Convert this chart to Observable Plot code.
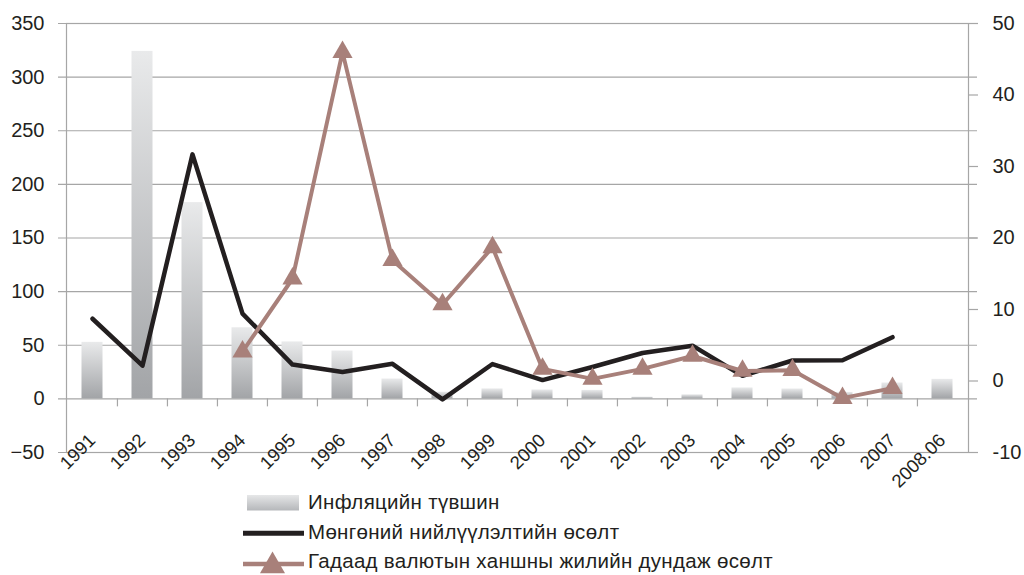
<!DOCTYPE html>
<html><head><meta charset="utf-8">
<script src="https://cdn.jsdelivr.net/npm/d3@7"></script>
<script src="https://cdn.jsdelivr.net/npm/@observablehq/plot@0.6"></script>
<style>
body{margin:0;background:#fff;font-family:"Liberation Sans",Arial,sans-serif;color:#231f20}
#wrap{width:1024px;height:575px;overflow:hidden}
svg{display:block}
</style></head><body><div id="wrap"><div id="chart"></div><div id="legend"></div></div>
<script>
const categories = ["1991","1992","1993","1994","1995","1996","1997","1998","1999","2000","2001","2002","2003","2004","2005","2006","2007","2008.06"];
const inflation = [52.7, 324, 183, 66.3, 53.1, 44.6, 18.5, 6.2, 9.3, 8.3, 7.9, 1.6, 3.8, 10.2, 9.2, 6.0, 14.8, 18.2];
const moneySupply = [74.7, 31, 228, 79.5, 32, 25, 32.7, -0.5, 32.5, 17.5, 29.7, 42.8, 49.6, 21.5, 35.8, 36, 57.5, null];
const fxGrowth = [null, null, null, 4.1, 14.3, 46, 16.9, 10.7, 18.7, 1.7, 0.3, 1.7, 3.5, 1.4, 1.5, -2.4, -1.0, null];
const leftTicks = [-50, 0, 50, 100, 150, 200, 250, 300, 350];
const rightTicks = [-10, 0, 10, 20, 30, 40, 50];
const legendLabels = ["Инфляцийн түвшин", "Мөнгөний нийлүүлэлтийн өсөлт", "Гадаад валютын ханшны жилийн дундаж өсөлт"];

const leftMin = -50, leftMax = 350, rightMin = -10, rightMax = 50;
const toLeft = v => leftMin + (v - rightMin) * (leftMax - leftMin) / (rightMax - rightMin);
const fromLeft = v => rightMin + (v - leftMin) * (rightMax - rightMin) / (leftMax - leftMin);

const W = 1024, H = 480, mL = 66, mR = 56, mT = 23, mB = 28;
const bw = (W - mL - mR) / categories.length;
const gridColor = "#a6a6a6", textColor = "#231f20", brown = "#a8807a";

const rows = categories.map((c, i) => ({c, infl: inflation[i], money: moneySupply[i], fx: fxGrowth[i]}));

const svg = Plot.plot({
  width: W, height: H, marginLeft: mL, marginRight: mR, marginTop: mT, marginBottom: mB,
  style: {fontFamily: "Liberation Sans, Arial, sans-serif", color: textColor, background: "white", overflow: "visible"},
  x: {type: "band", domain: categories, paddingInner: 0, paddingOuter: 0, axis: null},
  y: {domain: [leftMin, leftMax], axis: null},
  marks: [
    Plot.ruleY(leftTicks, {stroke: gridColor, strokeWidth: 1.2, insetLeft: -8, insetRight: -9}),
    Plot.frame({stroke: gridColor, strokeWidth: 1.2}),
    Plot.barY(rows, {x: "c", y: "infl", fill: "url(#barGrad)", insetLeft: 14.5, insetRight: 14.5}),
    Plot.ruleX(categories.slice(1), {x: d => d, y1: 0, y2: 0, dx: -bw / 2, insetBottom: -8, stroke: gridColor, strokeWidth: 1.2}),
    Plot.axisY(leftTicks, {anchor: "left", tickSize: 0, tickPadding: 22, fontSize: 20, fill: textColor, stroke: gridColor}),
    Plot.axisY(rightTicks.map(toLeft), {anchor: "right", tickSize: 9, tickPadding: 15, fontSize: 20, fill: textColor, stroke: gridColor, strokeWidth: 1.2, tickFormat: v => String(Math.round(fromLeft(v)))}),
    Plot.text(categories, {x: d => d, frameAnchor: "bottom", rotate: -45, textAnchor: "end", lineAnchor: "bottom", dx: 4, dy: -11, fontSize: 18.5, fill: textColor}),
    Plot.line(rows.filter(d => d.money != null), {x: "c", y: "money", stroke: "#231f20", strokeWidth: 4.5, strokeLinejoin: "round"}),
    Plot.line(rows.filter(d => d.fx != null), {x: "c", y: d => toLeft(d.fx), stroke: brown, strokeWidth: 4, strokeLinejoin: "round"}),
    Plot.dot(rows.filter(d => d.fx != null), {x: "c", y: d => toLeft(d.fx), symbol: "triangle", r: 7.5, fill: brown, stroke: "none"})
  ]
});

const defs = d3.select(svg).insert("defs", ":first-child");
const g = defs.append("linearGradient").attr("id", "barGrad").attr("x1", 0).attr("y1", 0).attr("x2", 0).attr("y2", 1);
g.append("stop").attr("offset", "0%").attr("stop-color", "#e9eaeb");
g.append("stop").attr("offset", "100%").attr("stop-color", "#a2a4a7");
document.getElementById("chart").appendChild(svg);

// Legend
const leg = d3.select("#legend").append("svg").attr("width", W).attr("height", 95)
  .style("font-family", "Liberation Sans, Arial, sans-serif").style("font-size", "20.5px").style("letter-spacing", "0.3px");
const lg = leg.append("defs").append("linearGradient").attr("id", "legGrad2").attr("x1", 0).attr("y1", 0).attr("x2", 0).attr("y2", 1);
lg.append("stop").attr("offset", "0%").attr("stop-color", "#e6e7e8");
lg.append("stop").attr("offset", "100%").attr("stop-color", "#b5b7ba");
leg.append("rect").attr("x", 247).attr("y", 15).attr("width", 52).attr("height", 15.5).attr("fill", "url(#legGrad2)");
leg.append("line").attr("x1", 243).attr("x2", 304).attr("y1", 53.3).attr("y2", 53.3).attr("stroke", "#231f20").attr("stroke-width", 5);
leg.append("line").attr("x1", 243).attr("x2", 304).attr("y1", 84).attr("y2", 84).attr("stroke", brown).attr("stroke-width", 4.5);
leg.append("path").attr("d", d3.symbol(d3.symbolTriangle, Math.PI * 9.3 * 9.3)()).attr("transform", "translate(272.5,86)").attr("fill", brown);
const ys = [29, 59, 88];
legendLabels.forEach((t, i) => leg.append("text").attr("x", 308).attr("y", ys[i]).attr("fill", textColor).text(t));
</script></body></html>
